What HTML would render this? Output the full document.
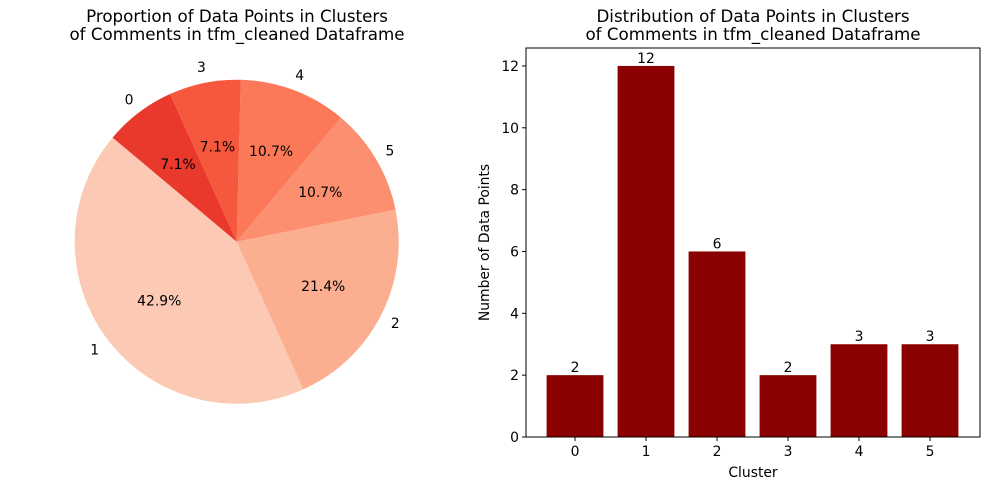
<!DOCTYPE html>
<html><head><meta charset="utf-8"><style>
body{margin:0;background:#fff;font-family:"Liberation Sans","DejaVu Sans",sans-serif;}
svg text{font-family:"DejaVu Sans","Liberation Sans",sans-serif;}
</style></head><body>
<svg id="c" width="989" height="490" xmlns="http://www.w3.org/2000/svg">
<text x="237" y="22" font-size="16.7" text-anchor="middle">Proportion of Data Points in Clusters</text>
<text x="237" y="40" font-size="16.7" text-anchor="middle">of Comments in tfm_cleaned Dataframe</text>
<text x="753" y="22" font-size="16.7" text-anchor="middle">Distribution of Data Points in Clusters</text>
<text x="753" y="40" font-size="16.7" text-anchor="middle">of Comments in tfm_cleaned Dataframe</text>
<g id="pie"></g>
<g id="bars"></g>
</svg>
<script>
const pieLabels = ["1","2","5","4","3","0"];
const pieValues = [12,6,3,3,2,2];
const pieColors = ["#fcc9b4","#fcae91","#fc8f6f","#fb7858","#f6583e","#e9392c"];
const barCats = ["0","1","2","3","4","5"];
const barValues = [2,12,6,2,3,3];
const yTicks = [0,2,4,6,8,10,12];

const NS="http://www.w3.org/2000/svg";
const FS=13.9;
function mk(tag,attrs,parent,txt){const e=document.createElementNS(NS,tag);for(const k in attrs)e.setAttribute(k,attrs[k]);if(txt!==undefined)e.textContent=txt;parent.appendChild(e);return e;}

// Pie
const pie=document.getElementById('pie');
const cx=236.7, cy=241.7, R=162, start=140;
const total=pieValues.reduce((a,b)=>a+b,0);
let ang=start;
pieValues.forEach((v,i)=>{
  const sweep=v/total*360, a0=ang*Math.PI/180, a1=(ang+sweep)*Math.PI/180;
  const x0=cx+R*Math.cos(a0), y0=cy-R*Math.sin(a0), x1=cx+R*Math.cos(a1), y1=cy-R*Math.sin(a1);
  const p=mk('path',{d:`M${cx},${cy} L${x0},${y0} A${R},${R} 0 ${sweep>180?1:0} 0 ${x1},${y1} Z`,fill:pieColors[i]},pie);
  
  
  const m=(ang+sweep/2)*Math.PI/180;
  const l=mk('text',{x:cx+1.1*R*Math.cos(m),y:cy-1.1*R*Math.sin(m)+5,'font-size':FS,'text-anchor':'middle'},pie,pieLabels[i]);
  
  
  const t=mk('text',{x:cx+0.6*R*Math.cos(m),y:cy-0.6*R*Math.sin(m)+5,'font-size':FS,'text-anchor':'middle'},pie,(v/total*100).toFixed(1)+'%');
  
  
  ang+=sweep;
});

// Bars
const g=document.getElementById('bars');
const L=526,Rr=980,T=48,B=437,ymax=12.58;
const xs=i=>575+i*71, ys=v=>B-v/ymax*(B-T);
barValues.forEach((v,i)=>{
  const r=mk('rect',{x:xs(i)-28.4,y:ys(v),width:56.8,height:B-ys(v),fill:'#8b0000'},g);
  
  
  const t=mk('text',{x:xs(i),y:ys(v)-3,'font-size':FS,'text-anchor':'middle'},g,String(v));
  
  
  mk('line',{x1:xs(i),x2:xs(i),y1:B,y2:B+4,stroke:'#000'},g);
  const xl=mk('text',{x:xs(i),y:B+19,'font-size':FS,'text-anchor':'middle'},g,barCats[i]);
  
  
});
yTicks.forEach(v=>{
  mk('line',{x1:L-4,x2:L,y1:ys(v),y2:ys(v),stroke:'#000'},g);
  const yl=mk('text',{x:L-7,y:ys(v)+5,'font-size':FS,'text-anchor':'end'},g,String(v));
  
  
});
const fr=mk('rect',{x:L,y:T,width:Rr-L,height:B-T,fill:'none',stroke:'#000','stroke-width':1},g);


const xt=mk('text',{x:753,y:477,'font-size':FS,'text-anchor':'middle'},g,'Cluster');


const yt=mk('text',{x:0,y:0,'font-size':FS,'text-anchor':'middle',transform:`translate(489,${(T+B)/2}) rotate(-90)`},g,'Number of Data Points');


</script>
</body></html>
